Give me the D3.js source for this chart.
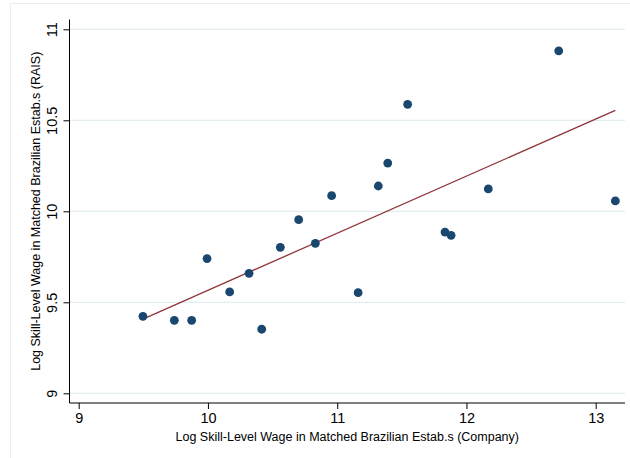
<!DOCTYPE html>
<html><head><meta charset="utf-8">
<script src="https://cdn.jsdelivr.net/npm/d3@7/dist/d3.min.js"></script>
<style>body{margin:0;background:#fff}svg{display:block}text{font-family:"Liberation Sans",Arial,Helvetica,sans-serif;fill:#000}</style>
</head><body>
<script>
const companyWage = [9.497,9.740,9.874,9.993,10.168,10.318,10.416,10.560,10.702,10.831,10.957,11.162,11.318,11.391,11.545,11.834,11.881,12.169,12.714,13.152];
const raisWage    = [9.423,9.401,9.401,9.740,9.557,9.659,9.352,9.802,9.954,9.824,10.086,9.553,10.139,10.265,10.588,9.886,9.868,10.123,10.882,10.057];
const fitX = [9.497,13.152];
const fitY = [9.408,10.555];
const xTicks = [9,10,11,12,13];
const yTicks = [9,9.5,10,10.5,11];
const xTitle = "Log Skill-Level Wage in Matched Brazilian Estab.s (Company)";
const yTitle = "Log Skill-Level Wage in Matched Brazilian Estab.s (RAIS)";

const W=630,H=458;
const L=69.5,R=625,T=19.5,B=403;
const svg=d3.select("body").append("svg").attr("width",W).attr("height",H);
// outer frame (partially cropped)
svg.append("line").attr("x1",10.5).attr("x2",10.5).attr("y1",3.5).attr("y2",H).attr("stroke","#e8eff0");
svg.append("line").attr("x1",10.5).attr("x2",W).attr("y1",3.5).attr("y2",3.5).attr("stroke","#e8eff0");

const x=d3.scaleLinear().domain([9,13]).range([78.7,595.7]);
const y=d3.scaleLinear().domain([9,11]).range([393.3,29.3]);

// gridlines
svg.append("g").selectAll("line").data(yTicks).join("line")
  .attr("x1",L).attr("x2",R).attr("y1",d=>y(d)).attr("y2",d=>y(d))
  .attr("stroke","#e3eef0").attr("stroke-width",1.2);

// axes
const xa=svg.append("g").attr("transform",`translate(0,${B})`)
  .call(d3.axisBottom(x).tickValues(xTicks).tickSize(6).tickSizeOuter(0).tickFormat(d3.format("d")));
xa.select(".domain").attr("d",`M${L},0H${R}`);
xa.selectAll("text").attr("font-size",14.5).attr("dy","0.71em").attr("y",10);
const ya=svg.append("g").attr("transform",`translate(${L},0)`)
  .call(d3.axisLeft(y).tickValues(yTicks).tickSize(6).tickSizeOuter(0).tickFormat(d=>d3.format("")(d)));
ya.select(".domain").attr("d",`M0,${T}V${B}`);
ya.selectAll("text").attr("font-size",14.5).attr("x",null).attr("dy",null)
  .attr("text-anchor","middle")
  .attr("transform",`translate(-18,0) rotate(-90)`).attr("dy","0.35em");
svg.selectAll(".domain, .tick line").attr("stroke","#000");
svg.selectAll("g text").attr("font-family",null);

// fit line
svg.append("line").attr("x1",x(fitX[0])).attr("y1",y(fitY[0])).attr("x2",x(fitX[1])).attr("y2",y(fitY[1]))
  .attr("stroke","#90353b").attr("stroke-width",1.3);

// points
svg.append("g").selectAll("circle").data(companyWage).join("circle")
  .attr("cx",d=>x(d)).attr("cy",(d,i)=>y(raisWage[i])).attr("r",4.4)
  .attr("fill","#1a476f");

// titles
svg.append("text").attr("x",(L+R)/2).attr("y",441).attr("text-anchor","middle").attr("font-size",12.5).text(xTitle);
svg.append("text").attr("transform",`translate(40,${(T+B)/2}) rotate(-90)`).attr("text-anchor","middle").attr("font-size",12.5).text(yTitle);
</script>
</body></html>
